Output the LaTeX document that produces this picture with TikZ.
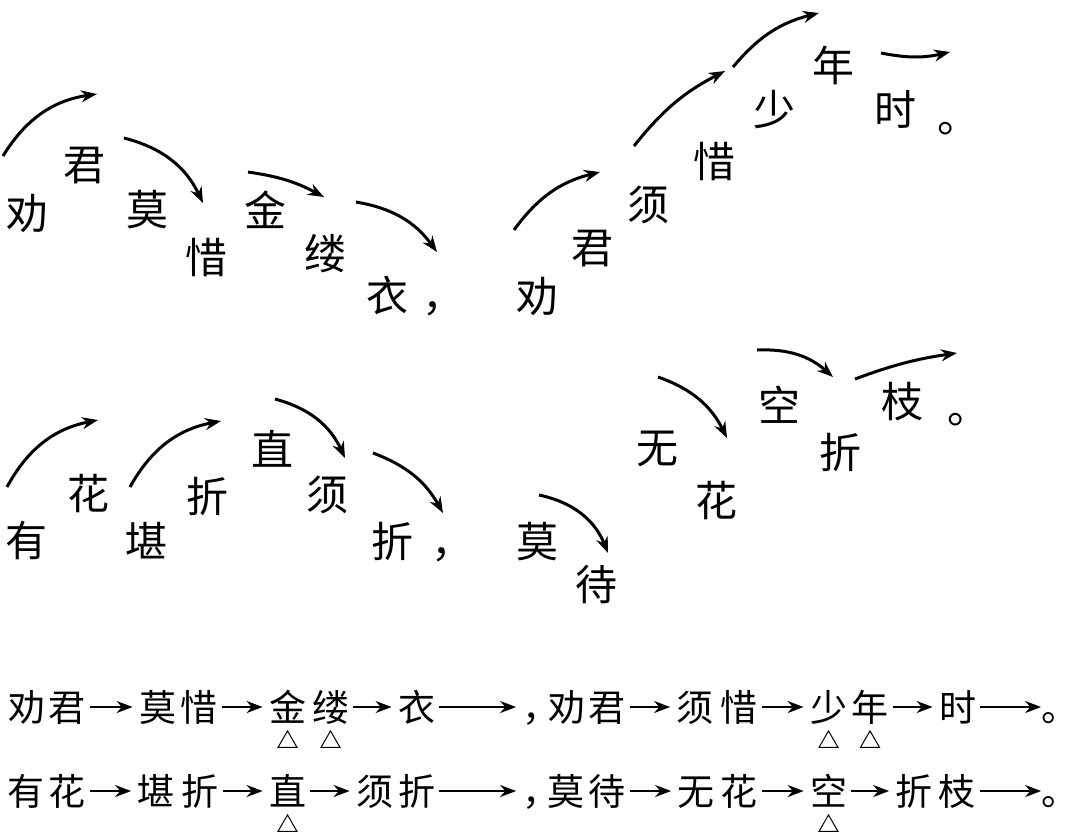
\documentclass[tikz,border=0pt]{standalone}
\usepackage{fontspec}
\newfontfamily\cjk{Noto Sans CJK SC}
\usetikzlibrary{arrows.meta,positioning,shapes.geometric}

\begin{document}
\begin{tikzpicture}[x=0.5pt,y=0.5pt,>={Stealth[length=8pt,width=6pt]},
	zi/.style={inner sep=0pt,font=\cjk\fontsize{21}{21}\selectfont,text height=18.48pt,text depth=2.52pt},
	xiao/.style={inner sep=0pt,font=\cjk\fontsize{18.5}{18.5}\selectfont,text height=16.28pt,text depth=2.22pt},
	wan/.style={line width=1.5pt},
	zhi/.style={line width=1pt,shorten <=2pt,shorten >=3pt},
	dian/.style={regular polygon,regular polygon sides=3,draw,line width=0.5pt,inner sep=0pt,minimum size=11pt,below=2pt of #1}]
	\useasboundingbox (0,0) rectangle (1080,-832);
	
	% first line, up and down
	\node[zi] (t1) at (27.5,-214) {劝};
	\node[zi] (t2) at (84,-165) {君};
	\node[zi] (t3) at (147.5,-210) {莫};
	\node[zi] (t4) at (206,-258) {惜};
	\node[zi] (t5) at (265,-211) {金};
	\node[zi] (t6) at (325.5,-254) {缕};
	\node[zi] (t7) at (387.5,-296) {衣};
	\node[zi] (t8) at (443,-296) {，};
	\node[zi] (t9) at (537,-297) {劝};
	\node[zi] (t10) at (592,-248) {君};
	\node[zi] (t11) at (648,-205) {须};
	\node[zi] (t12) at (714,-162) {惜};
	\node[zi] (t13) at (774,-110) {少};
	\node[zi] (t14) at (833,-66) {年};
	\node[zi] (t15) at (895,-110) {时};
	\node[zi] (t16) at (958,-117) {。};
	
	\path[->,wan]
	(3,-156) edge [bend left=25] (97,-94)
	(124,-138) edge [bend left=25] (203,-203)
	(248,-172) edge [bend left=10] (324,-197)
	(356,-202) edge [bend left=22] (437,-252)
	(514,-230) edge [bend left=20] (600,-172)
	(634,-146) edge [bend left=12] (725,-71)
	(733,-67) edge [bend left=18] (819,-13)
	(881,-53) edge [bend right=12] (950,-52);
	
	% second line
	\node[zi] (u1) at (26,-541) {有};
	\node[zi] (u2) at (88,-494) {花};
	\node[zi] (u3) at (146,-542) {堪};
	\node[zi] (u4) at (207,-497) {折};
	\node[zi] (u5) at (272,-450) {直};
	\node[zi] (u6) at (327,-495) {须};
	\node[zi] (u7) at (392,-542) {折};
	\node[zi] (u8) at (452,-542) {，};
	\node[zi] (u9) at (537,-542) {莫};
	\node[zi] (u10) at (596,-585) {待};
	\node[zi] (u11) at (657,-448) {无};
	\node[zi] (u12) at (716,-501) {花};
	\node[zi] (u13) at (779,-406) {空};
	\node[zi] (u14) at (840,-453) {折};
	\node[zi] (u15) at (902,-402) {枝};
	\node[zi] (u16) at (968,-408) {。};
	
	\path[->,wan]
	(7,-487) edge [bend left=25] (98,-420)
	(130,-487) edge [bend left=25] (221,-421)
	(275,-399) edge [bend left=25] (345,-458)
	(373,-453) edge [bend left=20] (443,-513)
	(539,-495) edge [bend left=28] (608,-553)
	(658,-377) edge [bend left=22] (727,-438)
	(757,-350) edge [bend left=22] (833,-377)
	(855,-379) edge [bend left=6] (957,-353);
	
	% the two lines written out
	\node[xiao] (p1) at (27.5,-707) {劝};
	\node[xiao] (p2) at (67,-707) {君};
	\node[xiao] (p3) at (157.5,-707) {莫};
	\node[xiao] (p4) at (199,-707) {惜};
	\node[xiao] (p5) at (287.5,-707) {金};
	\node[xiao] (p6) at (330.5,-707) {缕};
	\node[xiao] (p7) at (416.5,-707) {衣};
	\node[xiao] (p8) at (541,-707) {，};
	\node[xiao] (p9) at (567,-707) {劝};
	\node[xiao] (p10) at (607,-707) {君};
	\node[xiao] (p11) at (695,-707) {须};
	\node[xiao] (p12) at (739,-707) {惜};
	\node[xiao] (p13) at (828.5,-707) {少};
	\node[xiao] (p14) at (870,-707) {年};
	\node[xiao] (p15) at (957.5,-707) {时};
	\node[xiao] (p16) at (1060,-707) {。};
	
	\node[xiao] (q1) at (26,-791) {有};
	\node[xiao] (q2) at (67,-791) {花};
	\node[xiao] (q3) at (156,-791) {堪};
	\node[xiao] (q4) at (200,-791) {折};
	\node[xiao] (q5) at (287.5,-791) {直};
	\node[xiao] (q6) at (374.5,-791) {须};
	\node[xiao] (q7) at (416.5,-791) {折};
	\node[xiao] (q8) at (541,-791) {，};
	\node[xiao] (q9) at (566,-791) {莫};
	\node[xiao] (q10) at (607,-791) {待};
	\node[xiao] (q11) at (696,-791) {无};
	\node[xiao] (q12) at (739,-791) {花};
	\node[xiao] (q13) at (828.5,-791) {空};
	\node[xiao] (q14) at (914,-791) {折};
	\node[xiao] (q15) at (957,-791) {枝};
	\node[xiao] (q16) at (1060,-791) {。};
	
	\path[->,zhi]
	(p2) edge (p3)
	(p4) edge (p5)
	(p6) edge (p7)
	(p7) edge (p8)
	(p10) edge (p11)
	(p12) edge (p13)
	(p14) edge (p15)
	(p15) edge [shorten >=0pt] (p16)
	(q2) edge (q3)
	(q4) edge (q5)
	(q5) edge (q6)
	(q7) edge (q8)
	(q10) edge (q11)
	(q12) edge (q13)
	(q13) edge (q14)
	(q15) edge [shorten >=0pt] (q16);
	
	\node[dian=p5] (d1) {};
	\node[dian=p6] (d2) {};
	\node[dian=p13] (d3) {};
	\node[dian=p14] (d4) {};
	\node[dian=q5] (d5) {};
	\node[dian=q13] (d6) {};
\end{tikzpicture}
\end{document}
